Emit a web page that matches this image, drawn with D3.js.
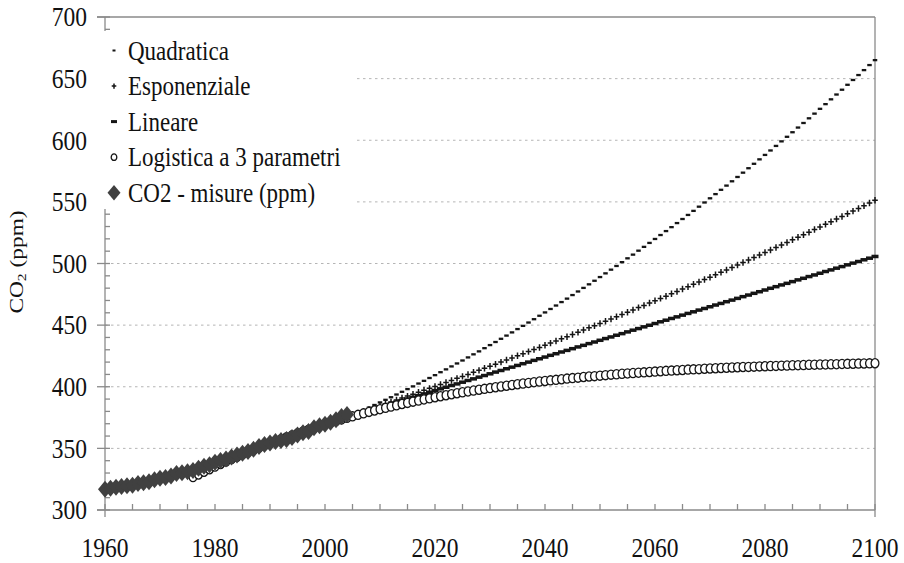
<!DOCTYPE html>
<html><head><meta charset="utf-8">
<script src="https://cdn.jsdelivr.net/npm/d3@7"></script>
<style>html,body{margin:0;padding:0;background:#fff;} svg{display:block;} text{font-family:"Liberation Serif","Times New Roman",Times,serif;}</style>
</head><body><svg id="c" width="904" height="563"></svg>
<script>
// ---- data ----
const measuredStart = 1960;
const measuredCO2 = [316.9,317.6,318.5,319.0,319.6,320.0,321.4,322.2,323.0,324.6,
  325.7,326.3,327.5,329.7,330.2,331.1,332.1,333.8,335.4,336.8,
  338.7,340.1,341.4,343.0,344.6,346.0,347.4,349.2,351.6,353.1,
  354.4,355.6,356.4,357.1,358.8,360.8,362.6,363.7,366.7,368.3,
  369.5,371.1,373.2,375.8,377.5];
const logisticStart = 1976;
const logistic = [326.7,328.8,331.0,333.1,335.2,337.3,339.3,341.3,343.2,345.1,
  347.0,348.8,350.6,352.4,354.1,355.8,357.4,359.1,360.6,362.2,
  363.7,365.2,366.7,368.1,369.5,370.9,372.2,373.5,374.8,376.0,
  377.2,378.4,379.6,380.7,381.8,382.9,383.9,384.9,386.0,386.9,
  387.9,388.8,389.7,390.6,391.5,392.3,393.1,393.9,394.7,395.5,
  396.2,396.9,397.6,398.3,398.9,399.6,400.2,400.8,401.4,402.0,
  402.6,403.1,403.7,404.2,404.7,405.2,405.6,406.1,406.6,407.0,
  407.4,407.9,408.3,408.6,409.0,409.4,409.8,410.1,410.5,410.8,
  411.1,411.4,411.7,412.0,412.3,412.6,412.9,413.1,413.4,413.6,
  413.9,414.1,414.3,414.6,414.8,415.0,415.2,415.4,415.6,415.8,
  416.0,416.1,416.3,416.5,416.6,416.8,416.9,417.1,417.2,417.4,
  417.5,417.6,417.8,417.9,418.0,418.1,418.2,418.3,418.5,418.6,
  418.7,418.8,418.9,419.0,419.1];
const fitStart = 2005;
const quadratic = [377.0,379.0,381.0,383.1,385.2,387.3,389.4,391.5,393.7,395.9,
  398.1,400.3,402.6,404.8,407.1,409.4,411.8,414.1,416.5,418.9,
  421.3,423.8,426.3,428.7,431.3,433.8,436.3,438.9,441.5,444.1,
  446.8,449.4,452.1,454.8,457.6,460.3,463.1,465.9,468.7,471.5,
  474.4,477.3,480.2,483.1,486.0,489.0,492.0,495.0,498.0,501.1,
  504.2,507.2,510.4,513.5,516.7,519.9,523.1,526.3,529.5,532.8,
  536.1,539.4,542.7,546.1,549.5,552.9,556.3,559.8,563.2,566.7,
  570.2,573.7,577.3,580.9,584.5,588.1,591.7,595.4,599.1,602.8,
  606.5,610.3,614.0,617.8,621.6,625.5,629.3,633.2,637.1,641.0,
  645.0,648.9,652.9,656.9,661.0,665.0];
const exponential = [377.0,378.5,380.0,381.6,383.1,384.6,386.2,387.7,389.3,390.8,
  392.4,394.0,395.5,397.1,398.7,400.3,401.9,403.5,405.1,406.8,
  408.4,410.0,411.7,413.3,415.0,416.6,418.3,420.0,421.7,423.4,
  425.1,426.8,428.5,430.2,431.9,433.7,435.4,437.1,438.9,440.6,
  442.4,444.2,446.0,447.8,449.5,451.3,453.2,455.0,456.8,458.6,
  460.5,462.3,464.2,466.0,467.9,469.8,471.7,473.5,475.4,477.3,
  479.3,481.2,483.1,485.0,487.0,488.9,490.9,492.9,494.8,496.8,
  498.8,500.8,502.8,504.8,506.9,508.9,510.9,513.0,515.0,517.1,
  519.2,521.3,523.3,525.4,527.6,529.7,531.8,533.9,536.1,538.2,
  540.4,542.5,544.7,546.9,549.1,551.3];
const linear = [376.5,377.9,379.2,380.6,381.9,383.3,384.7,386.0,387.4,388.7,
  390.1,391.5,392.8,394.2,395.5,396.9,398.3,399.6,401.0,402.3,
  403.7,405.1,406.4,407.8,409.1,410.5,411.9,413.2,414.6,415.9,
  417.3,418.7,420.0,421.4,422.7,424.1,425.5,426.8,428.2,429.5,
  430.9,432.3,433.6,435.0,436.3,437.7,439.1,440.4,441.8,443.1,
  444.5,445.9,447.2,448.6,449.9,451.3,452.7,454.0,455.4,456.7,
  458.1,459.5,460.8,462.2,463.5,464.9,466.3,467.6,469.0,470.3,
  471.7,473.1,474.4,475.8,477.1,478.5,479.9,481.2,482.6,483.9,
  485.3,486.7,488.0,489.4,490.7,492.1,493.5,494.8,496.2,497.5,
  498.9,500.3,501.6,503.0,504.3,505.7];
const xTickLabels = [1960,1980,2000,2020,2040,2060,2080,2100];
const yTickLabels = [300,350,400,450,500,550,600,650,700];
const gridValues = [350,400,450,500,550,600,650];
const legendLabels = ["Quadratica","Esponenziale","Lineare","Logistica a 3 parametri","CO2 - misure (ppm)"];

// ---- drawing ----
const svg = d3.select("#c");
const x = d3.scaleLinear().domain([1960,2100]).range([105,875]);
const y = d3.scaleLinear().domain([300,700]).range([510,17]);
const SY = 1.2;
const AX = "#8a8a8a";
const MK = "#151515";

const toPts = (start, arr) => arr.map((v,i)=>({yr:start+i, v}));

// gridlines
svg.append("g").selectAll("line").data(gridValues).join("line")
  .attr("x1", x(1960)).attr("x2", x(2100))
  .attr("y1", d=>y(d)).attr("y2", d=>y(d))
  .attr("stroke","#b5b5b5").attr("stroke-width",1).attr("stroke-dasharray","2.5,3.5");

// frame / axes
const ax = svg.append("g").attr("stroke",AX).attr("stroke-width",1.3).attr("fill","none");
ax.append("line").attr("x1",x(1960)).attr("x2",x(1960)).attr("y1",y(700)).attr("y2",y(300)+7);
ax.append("line").attr("x1",x(2100)).attr("x2",x(2100)).attr("y1",y(700)).attr("y2",y(300)+7);
ax.append("line").attr("x1",x(1960)-8).attr("x2",x(2100)).attr("y1",y(700)).attr("y2",y(700));
ax.append("line").attr("x1",x(1960)-8).attr("x2",x(2100)).attr("y1",y(300)).attr("y2",y(300));
ax.selectAll(".ym").data(d3.range(300,701,10)).join("line")
  .attr("x1", d=> d%50===0 ? x(1960)-8 : x(1960))
  .attr("x2", x(1960)+5)
  .attr("y1", d=>y(d)).attr("y2", d=>y(d));
ax.selectAll(".xm").data(d3.range(1960,2101,5)).join("line")
  .attr("x1", d=>x(d)).attr("x2", d=>x(d))
  .attr("y1", y(300)-6).attr("y2", y(300));

// tick labels
svg.append("g").selectAll("text").data(yTickLabels).join("text")
  .attr("transform", d=>`translate(87,${y(d)+9.3}) scale(1,${SY})`)
  .attr("text-anchor","end").attr("font-size",23.5).attr("fill","#111")
  .text(d=>d);
svg.append("g").selectAll("text").data(xTickLabels).join("text")
  .attr("transform", d=>`translate(${x(d)},557) scale(1,${SY})`)
  .attr("text-anchor","middle").attr("font-size",23.5).attr("fill","#111")
  .text(d=>d);

// y title
const yt = svg.append("text")
  .attr("transform",`translate(23,262) rotate(-90) scale(${SY},1)`)
  .attr("text-anchor","middle").attr("font-size",19.5).attr("fill","#111");
yt.append("tspan").text("CO");
yt.append("tspan").attr("font-size",13).attr("dy",3).text("2");
yt.append("tspan").attr("dy",-3).text(" (ppm)");

// legend box (covers axis)
svg.append("rect").attr("x",95).attr("y",31).attr("width",262).attr("height",178).attr("fill","#fff");

// marker painters
function diamond(g, w, h){ g.append("path").attr("d",`M0,${-h}L${w},0L0,${h}L${-w},0Z`).attr("fill","#404040"); }
function circ(g, rx, ry){ g.append("ellipse").attr("rx",rx).attr("ry",ry).attr("fill","#fff").attr("stroke",MK).attr("stroke-width",1.3); }
function plus(g, s){ g.append("path").attr("d",`M${-s},0H${s}M0,${-s*1.15}V${s*1.15}`).attr("stroke",MK).attr("stroke-width",1.5).attr("fill","none"); }
function dash(g, w, h){ g.append("rect").attr("x",-w/2).attr("y",-h/2).attr("width",w).attr("height",h).attr("fill",MK); }

function series(data, painter){
  svg.append("g").selectAll("g").data(data).join("g")
    .attr("transform", d=>`translate(${x(d.yr)},${y(d.v)})`)
    .each(function(){ painter(d3.select(this)); });
}
series(toPts(fitStart, quadratic), g=>dash(g,4.5,2.3));
series(toPts(fitStart, exponential), g=>plus(g,2.8));
series(toPts(fitStart, linear), g=>dash(g,7,3.5));
series(toPts(logisticStart, logistic), g=>circ(g,3.9,4.6));
series(toPts(measuredStart, measuredCO2), g=>diamond(g,7,8.5));

// legend
const painters = [g=>dash(g,3,2), g=>plus(g,2.3), g=>dash(g,6,3), g=>circ(g,2.8,3.3), g=>diamond(g,6.5,7.8)];
const lg = svg.append("g");
legendLabels.forEach((lab,i)=>{
  const by = 59.5 + i*35.55;
  const m = lg.append("g").attr("transform",`translate(114,${by-9})`);
  painters[i](m);
  lg.append("text").attr("transform",`translate(128,${by}) scale(1,${SY})`)
    .attr("font-size",23).attr("fill","#111").text(lab);
});
</script>
</body></html>
